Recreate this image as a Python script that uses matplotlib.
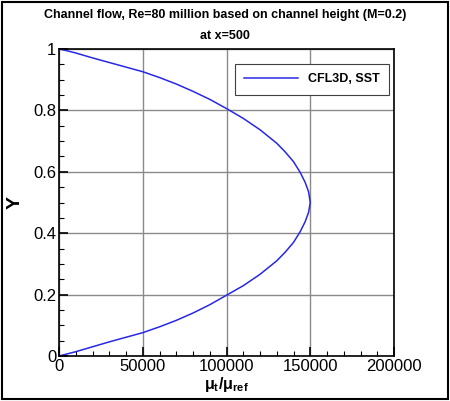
import matplotlib.pyplot as plt
from matplotlib.ticker import MultipleLocator
from matplotlib.patches import Rectangle

plt.rcParams['font.family'] = ['Liberation Sans', 'DejaVu Sans']
plt.rcParams['mathtext.fontset'] = 'custom'
plt.rcParams['mathtext.rm'] = 'Liberation Sans'
plt.rcParams['mathtext.it'] = 'Liberation Sans:italic'
plt.rcParams['mathtext.bf'] = 'Liberation Sans:bold'

title = 'Channel flow, Re=80 million based on channel height (M=0.2)\nat x=500'
series_label = 'CFL3D, SST'

# eddy viscosity ratio, lower wall to upper wall
y_vals = [0.0, 0.007, 0.014, 0.030, 0.046, 0.061, 0.076, 0.095, 0.116, 0.140,
          0.167, 0.198, 0.229, 0.266, 0.310, 0.338, 0.370, 0.405, 0.438, 0.468,
          0.500,
          0.535, 0.565, 0.598, 0.633, 0.665, 0.693, 0.737, 0.774, 0.806, 0.836,
          0.862, 0.886, 0.907, 0.926, 0.941, 0.956, 0.971, 0.987, 0.994, 1.0]
mut_vals = [0, 5000, 10000, 20000, 30000, 40000, 50000, 60000, 70000, 80000,
            90000, 100000, 110000, 120000, 130000, 135000, 140000, 144000, 147000, 149000,
            150000,
            149000, 147000, 144000, 140000, 135000, 130000, 120000, 110000, 100000, 90000,
            80000, 70000, 60000, 50000, 40000, 30000, 20000, 10000, 5000, 0]

x_ticks = [0, 50000, 100000, 150000, 200000]
y_ticks = [0, 0.2, 0.4, 0.6, 0.8, 1]

W, H = 450, 401
fig = plt.figure(figsize=(W / 100, H / 100), dpi=100)
ax = fig.add_axes([59 / W, (H - 356) / H, 335 / W, 307 / H])

ax.plot(mut_vals, y_vals, color='#2828e8', lw=1.1, label=series_label)

ax.set_xlim(0, 200000)
ax.set_ylim(0, 1)
ax.set_xticks(x_ticks)
ax.set_xticklabels([str(v) for v in x_ticks])
ax.set_yticks(y_ticks)
ax.set_yticklabels(['0', '0.2', '0.4', '0.6', '0.8', '1'])
ax.xaxis.set_minor_locator(MultipleLocator(10000))
ax.yaxis.set_minor_locator(MultipleLocator(0.05))
ax.tick_params(which='major', direction='in', length=6.5, width=1.2, labelsize=12,
               top=False, right=False, pad=2)
ax.tick_params(which='minor', direction='in', length=3.5, width=0.8, top=False, right=False)
ax.grid(True, which='major', color='#8a8a8a', lw=1.0)
ax.set_axisbelow(True)
for s in ax.spines.values():
    s.set_linewidth(1.2)

ax.set_xlabel(r'$\mathbf{\mu_t/\mu_{ref}}$', fontsize=11.5, labelpad=1)
fig.text(15 / W, 1 - 202 / H, 'Y', rotation=90, ha='center', va='center',
         fontsize=14, fontweight='bold')
fig.text(0.5, 1 - 9 / H, title, ha='center', va='top', fontsize=9,
         fontweight='bold', linespacing=1.95)

leg = ax.legend(loc='upper left', bbox_to_anchor=((235 - 59) / 335, (356 - 64) / 307),
                borderaxespad=0, prop={'weight': 'bold', 'size': 9}, fancybox=False,
                edgecolor='#404040', framealpha=1, handlelength=4.3,
                borderpad=0.75, handletextpad=0.8)
leg.get_frame().set_linewidth(0.8)

fig.patches.append(Rectangle((0.004, 0.004), 0.992, 0.992, transform=fig.transFigure,
                             fill=False, edgecolor='black', lw=1.5))

fig.savefig('out.png', dpi=100)
